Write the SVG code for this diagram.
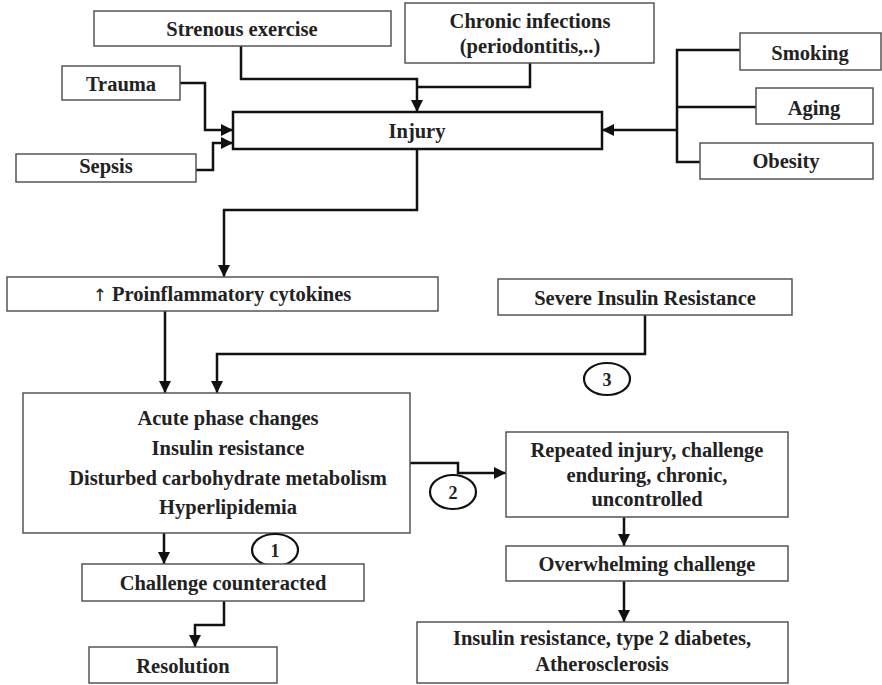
<svg xmlns="http://www.w3.org/2000/svg" width="882" height="685" viewBox="0 0 882 685">
<defs>
<style>
.b{fill:#fff;stroke:#555;stroke-width:1.5}
.bi{fill:#fff;stroke:#111;stroke-width:2.5}
.t{font-family:'Liberation Serif','Times New Roman','DejaVu Serif',serif;font-weight:700;font-size:20.5px;fill:#222;text-anchor:middle}
.n{font-size:18px}
.c{fill:none;stroke:#111;stroke-width:2.5}
.o{fill:#fff;stroke:#111;stroke-width:2.2}
.ar{font-family:'DejaVu Sans',sans-serif;font-weight:normal;font-size:17px}
</style>
<marker id="a" viewBox="0 0 12 12" refX="12" refY="6" markerWidth="12" markerHeight="12" markerUnits="userSpaceOnUse" orient="auto">
<path d="M0,0 L12,6 L0,12 z" fill="#111"/>
</marker>
</defs>
<rect width="882" height="685" fill="#fff"/>
<g id="connectors">
<polyline class="c" points="241,46 241,79 417,79 417,112" marker-end="url(#a)"/>
<polyline class="c" points="530,63 530,87 417,87"/>
<polyline class="c" points="180,83 205,83 205,130 233,130" marker-end="url(#a)"/>
<polyline class="c" points="196,170 213,170 213,143 233,143" marker-end="url(#a)"/>
<polyline class="c" points="740,50 677,50 677,162 700,162"/>
<line class="c" x1="677" y1="107" x2="756" y2="107"/>
<polyline class="c" points="677,130 602,130" marker-end="url(#a)"/>
<polyline class="c" points="417,149 417,210 224,210 224,277" marker-end="url(#a)"/>
<polyline class="c" points="165,311 165,393" marker-end="url(#a)"/>
<polyline class="c" points="645,315 645,354 217,354 217,393" marker-end="url(#a)"/>
<polyline class="c" points="164,533 164,564" marker-end="url(#a)"/>
<polyline class="c" points="224,601 224,625 195,625 195,647" marker-end="url(#a)"/>
<polyline class="c" points="410,463 458,463 458,473 506,473" marker-end="url(#a)"/>
<polyline class="c" points="624,517 624,546" marker-end="url(#a)"/>
<polyline class="c" points="624,581 624,622" marker-end="url(#a)"/>
</g>
<g id="strenous"><rect class="b" x="94" y="11" width="297" height="35"/><text class="t" x="242" y="36">Strenous exercise</text></g>
<g id="chronic"><rect class="b" x="405" y="3" width="249" height="60"/><text class="t" x="530" y="28">Chronic infections</text><text class="t" x="530" y="53">(periodontitis,..)</text></g>
<g id="trauma"><rect class="b" x="62" y="66" width="118" height="34"/><text class="t" x="121" y="91">Trauma</text></g>
<g id="sepsis"><rect class="b" x="16" y="154" width="180" height="28"/><text class="t" x="106" y="173">Sepsis</text></g>
<g id="injury"><rect class="bi" x="233" y="112" width="369" height="37"/><text class="t" x="417" y="138">Injury</text></g>
<g id="smoking"><rect class="b" x="740" y="33" width="141" height="37"/><text class="t" x="810" y="60">Smoking</text></g>
<g id="aging"><rect class="b" x="756" y="88" width="117" height="36"/><text class="t" x="814" y="115">Aging</text></g>
<g id="obesity"><rect class="b" x="700" y="143" width="173" height="36"/><text class="t" x="786" y="168">Obesity</text></g>
<g id="proinflammatory"><rect class="b" x="7" y="277" width="431" height="34"/><text class="t" x="222" y="301"><tspan class="ar">↑</tspan> Proinflammatory cytokines</text></g>
<g id="severe"><rect class="b" x="498" y="279" width="294" height="36"/><text class="t" x="645" y="305">Severe Insulin Resistance</text></g>
<g id="label3"><ellipse class="o" cx="607" cy="379" rx="23" ry="16"/><text class="t n" x="607" y="386">3</text></g>
<g id="acute"><rect class="b" x="23" y="393" width="387" height="140"/>
<text class="t" x="228" y="425">Acute phase changes</text>
<text class="t" x="228" y="455">Insulin resistance</text>
<text class="t" x="228" y="485">Disturbed carbohydrate metabolism</text>
<text class="t" x="228" y="514">Hyperlipidemia</text></g>
<g id="label1"><ellipse class="o" cx="275" cy="550" rx="23" ry="16"/><text class="t n" x="275" y="557">1</text></g>
<g id="counteracted"><rect class="b" x="82" y="564" width="282" height="37"/><text class="t" x="223" y="590">Challenge counteracted</text></g>
<g id="resolution"><rect class="b" x="89" y="647" width="188" height="36"/><text class="t" x="183" y="673">Resolution</text></g>
<g id="label2"><ellipse class="o" cx="453" cy="492" rx="23" ry="17"/><text class="t n" x="453" y="499">2</text></g>
<g id="repeated"><rect class="b" x="506" y="432" width="282" height="85"/>
<text class="t" x="647" y="457">Repeated injury, challenge</text>
<text class="t" x="647" y="482">enduring, chronic,</text>
<text class="t" x="647" y="506">uncontrolled</text></g>
<g id="overwhelming"><rect class="b" x="506" y="546" width="282" height="35"/><text class="t" x="647" y="571">Overwhelming challenge</text></g>
<g id="outcome"><rect class="b" x="417" y="622" width="371" height="61"/>
<text class="t" x="602" y="645">Insulin resistance, type 2 diabetes,</text>
<text class="t" x="602" y="671">Atherosclerosis</text></g>
</svg>
